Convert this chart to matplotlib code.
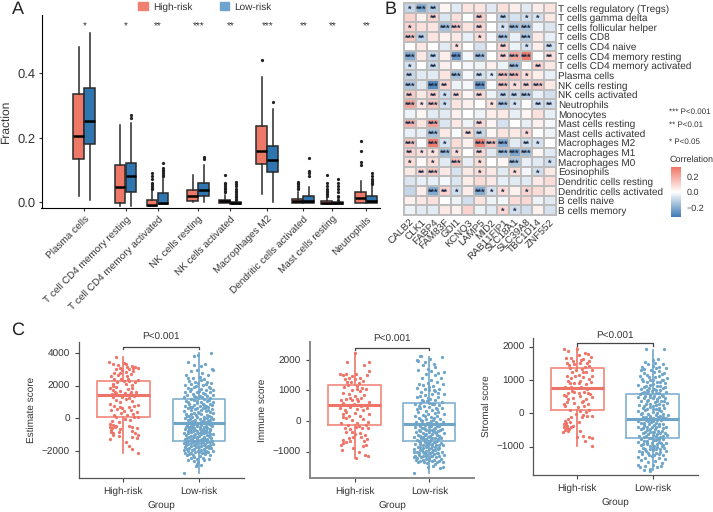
import numpy as np
import matplotlib
matplotlib.use("Agg")
import matplotlib.pyplot as plt
from matplotlib.colors import LinearSegmentedColormap
from matplotlib.patches import Patch
from matplotlib.transforms import ScaledTranslation

plt.rcParams['font.family'] = ['Liberation Sans', 'DejaVu Sans']
plt.rcParams['text.hinting'] = 'no_hinting'
plt.rcParams['text.hinting_factor'] = 1
W, H = 713, 512
TXT = '#333333'

# Panel A data
a_cats = ["Plasma cells", "T cell CD4 memory resting", "T cell CD4 memory activated", "NK cells resting",
          "NK cells activated", "Macrophages M2", "Dendritic cells activated", "Mast cells resting", "Neutrophils"]
a_stars = ["*", "*", "**", "***", "**", "***", "**", "**", "**"]
a_high_q1 = [0.134, -0.003, -0.011, 0.002, -0.003, 0.118, -0.004, -0.005, -0.004]
a_high_med = [0.206, 0.048, -0.009, 0.018, 0.003, 0.159, 0.003, -0.003, 0.011]
a_high_q3 = [0.336, 0.116, 0.005, 0.038, 0.007, 0.237, 0.010, 0.003, 0.030]
a_high_lo = [0.018, -0.013, -0.011, -0.001, -0.003, 0.025, -0.004, -0.005, -0.004]
a_high_hi = [0.483, 0.240, 0.033, 0.085, 0.023, 0.390, 0.030, 0.012, 0.066]
a_high_fl = [[], [], [0.04, 0.045, 0.05, 0.055, 0.06, 0.07, 0.08, 0.09], [],
             [0.03, 0.035, 0.04, 0.045, 0.05, 0.055, 0.06, 0.083], [0.443],
             [0.04, 0.045, 0.05, 0.055, 0.06, 0.063], [0.02, 0.025, 0.03, 0.035, 0.04, 0.05, 0.06, 0.085],
             [0.115, 0.125, 0.16, 0.19]]
a_low_q1 = [0.180, 0.031, -0.005, 0.018, -0.005, 0.093, -0.004, -0.006, -0.004]
a_low_med = [0.252, 0.080, -0.003, 0.038, -0.002, 0.131, 0.004, -0.004, 0.004]
a_low_q3 = [0.353, 0.121, 0.028, 0.059, 0.000, 0.173, 0.018, -0.001, 0.018]
a_low_lo = [0.007, -0.013, -0.005, -0.001, -0.005, -0.001, -0.004, -0.006, -0.004]
a_low_hi = [0.527, 0.245, 0.074, 0.114, 0.000, 0.288, 0.047, 0.000, 0.049]
a_low_fl = [[], [0.26, 0.27], [0.08, 0.085, 0.09, 0.095, 0.10, 0.105, 0.122], [0.135, 0.14],
            [0.005, 0.01, 0.015, 0.02, 0.025, 0.03, 0.035, 0.04, 0.05, 0.055, 0.062], [0.31],
            [0.08, 0.09, 0.095, 0.138], [0.005, 0.015, 0.02, 0.03, 0.04, 0.05, 0.06, 0.07],
            [0.055, 0.06, 0.065, 0.07, 0.08, 0.09]]

# Panel B data
hm_genes = ["CALB2", "CLK1", "FABP4", "FAM83F", "GDI1", "KCNQ3", "LAMP5", "MID2", "RAB11FIP1", "SLC18A1",
            "SLC39A8", "TBC1D14", "ZNF552"]
hm_cells = ["T cells regulatory (Tregs)", "T cells gamma delta", "T cells follicular helper", "T cells CD8",
            "T cells CD4 naive", "T cells CD4 memory resting", "T cells CD4 memory activated", "Plasma cells",
            "NK cells resting", "NK cells activated", "Neutrophils", "Monocytes", "Mast cells resting",
            "Mast cells activated", "Macrophages M2", "Macrophages M1", "Macrophages M0", "Eosinophils",
            "Dendritic cells resting", "Dendritic cells activated", "B cells naive", "B cells memory"]
hm_vals = [
    [-.10, -.20, -.12, .02, -.05, .06, .06, -.05, .07, .04, -.05, .04, .06],
    [.10, .03, .10, -.06, .07, .00, .12, .00, -.10, -.07, -.08, -.07, .05],
    [.10, .07, .06, -.15, .12, .06, .10, .00, -.07, -.15, -.15, -.03, -.06],
    [.13, -.11, .06, .03, .05, -.04, .08, -.02, -.13, -.04, -.13, .05, -.04],
    [.00, .05, .00, -.05, .07, .00, -.07, .00, .10, -.03, -.07, .04, -.08],
    [-.20, .05, -.10, .04, -.25, -.02, -.15, .00, .10, .20, .30, .00, .08],
    [-.07, .00, -.09, .03, .00, -.02, -.03, .03, -.03, -.15, .00, .10, .05],
    [-.10, -.05, -.05, .06, -.15, -.02, -.08, -.05, .13, .14, .08, .04, -.04],
    [-.13, -.05, -.28, .10, -.03, -.02, -.25, -.01, .13, .08, .10, .12, .05],
    [.12, .05, .10, -.08, .09, .02, .09, -.03, -.10, -.10, -.12, -.04, -.08],
    [.20, .06, .13, -.08, .06, .03, .00, .07, -.13, -.07, .00, -.08, -.08],
    [-.03, .02, -.05, -.05, .03, .00, -.03, .04, .05, -.04, .02, .07, -.04],
    [.17, .06, .22, -.06, .05, -.03, .09, .02, -.07, .00, -.04, .03, -.02],
    [-.04, -.04, -.15, .05, -.01, .08, -.10, .02, .06, .05, .09, .00, -.03],
    [.13, .00, .30, -.07, .08, .03, .28, .13, -.20, -.05, -.08, -.07, .00],
    [.10, .07, .07, -.15, .08, .00, .09, -.05, -.15, -.22, -.15, .02, -.05],
    [.08, .01, .08, -.05, .15, -.04, .08, .00, .02, -.14, -.04, -.05, -.08],
    [.05, .09, .13, .05, -.07, .05, .08, .05, -.05, .08, -.02, -.08, .05],
    [-.06, -.04, -.04, -.02, -.06, .04, .08, .05, -.04, -.05, -.05, .05, .08],
    [-.10, .04, -.20, .10, -.08, .04, -.20, -.07, .08, .03, .10, .08, .05],
    [.03, .05, .07, .00, -.03, -.08, .06, -.03, -.02, .08, .09, -.03, -.05],
    [-.03, -.05, -.05, .05, .03, .10, -.03, -.05, .09, -.08, -.08, .03, -.07],
]
hm_stars = ["1320000000000", "0020002020110", "1003302013300", "3200001030300", "0000100020102", "3020303023302",
            "1020000003020", "2000302133100", "3032003031230", "2021202022300", "3131000131022", "0000000000000",
            "3030002000000", "0030022000100", "3031003330210", "2113102033300", "1010301003001", "0230001001010",
            "0000000000000", "0032103110100", "0000000000000", "0000000011000"]

# Panel C data, jitter offset and score
groups = ["High-risk", "Low-risk"]
est_box_high = [100, 1450, 2265, -2100, 3735]
est_box_low = [-1370, -285, 1180, -3330, 4020]
imm_box_high = [-140, 530, 1174, -1195, 2230]
imm_box_low = [-640, -87, 600, -1685, 2100]
str_box_high = [100, 750, 1350, -970, 1950]
str_box_low = [-730, -170, 580, -1700, 1900]

est_high = [(-.09,3735),(-.19,3430),(-.13,3330),(-.07,3270),(.01,3410),(.04,3330),(.11,3200),(.16,3160),(.19,3060),
(-.1,3030),(-.05,3090),(-.02,2950),(.08,2990),(.13,2870),(-.12,2760),(.03,2830),(.1,2680),(-.16,2560),(-.07,2620),(.05,2560),
(-.12,2430),(-.03,2380),(.01,2260),(.08,2280),(.15,2210),(.19,2320),(-.14,2120),(-.08,2200),(.04,2110),(.12,2050),(-.17,1830),
(-.13,1750),(-.11,1620),(-.09,1900),(-.05,1660),(.06,1780),(.11,1840),(.17,1580),(-.15,1500),(-.07,1430),(.02,1560),(.09,1460),
(-.02,1320),(.14,1340),(-.09,1130),(-.04,1010),(-.17,880),(.03,1180),(.11,1050),(.19,820),(-.12,760),(-.05,720),(.07,700),
(.14,760),(-.16,480),(-.08,560),(.01,440),(.1,520),(.18,410),(-.12,220),(-.03,310),(.05,180),(.13,260),(-.09,70),(.02,-30),
(.19,60),(-.15,-170),(-.17,-330),(-.13,-400),(-.06,-220),(.09,-120),(-.18,-560),(-.15,-620),(-.11,-520),(-.05,-680),(.07,-490),
(.12,-540),(.18,-610),(-.16,-810),(-.13,-880),(-.06,-840),(.11,-760),(.16,-880),(.19,-1010),(-.17,-1260),(-.14,-1020),(-.06,-1100),
(.12,-1130),(.18,-1220),(.07,-1680),(.03,-1470),(.12,-1900),(.19,-2100),(-.14,1980),(-.1,1520),(.06,2430),(.13,3060),(-.05,2780),
(.1,1620),(-.13,1280),(.07,1240),(-.02,620),(.14,90),(-.16,-740),(-.09,-460),(.05,3120)]
est_low = [(.16,4020),(-.07,3780),(-.01,3900),(-.14,3450),(-.06,3290),(.03,3200),(.08,3350),(.19,2950),(.17,3000),(-.11,2880),
(-.03,2960),(.04,2780),(.12,2640),(-.17,2620),(-.08,2480),(.01,2530),(.07,2410),(-.13,2300),(-.05,2210),(.1,2250),(.16,2150),
(-.18,2040),(-.1,2090),(-.01,2130),(.05,2020),(.13,1930),(-.15,1870),(-.06,1910),(.03,1800),(.09,1720),(.19,1760),(-.19,1610),
(-.12,1680),(-.03,1590),(.05,1530),(.14,1620),(-.16,1420),(-.08,1460),(.01,1380),(.11,1350),(.18,1420),(-.2,1280),(-.11,1210),
(-.04,1290),(.06,1180),(.15,1230),(-.17,1060),(-.07,1130),(.02,990),(.1,1080),(.19,1010),(-.13,880),(-.03,920),(.07,840),
(.15,900),(-.19,760),(-.09,700),(.01,760),(.12,680),(-.15,600),(-.05,550),(.05,610),(.17,560),(-.2,420),(-.11,480),(-.01,400),
(.09,450),(.14,370),(-.17,280),(-.07,320),(.03,240),(.19,300),(-.13,150),(-.04,190),(.07,110),(.13,170),(-.19,20),(-.09,60),
(.01,-20),(.11,30),(.18,-40),(-.15,-130),(-.05,-90),(.05,-160),(.15,-110),(-.2,-270),(-.11,-220),(-.01,-300),(.09,-240),(.19,-280),
(-.16,-390),(-.07,-350),(.03,-420),(.13,-370),(-.13,-510),(-.03,-470),(.07,-540),(.17,-500),(-.19,-640),(-.09,-590),(.01,-650),
(.11,-610),(-.15,-760),(-.05,-710),(.05,-790),(.15,-730),(-.2,-880),(-.11,-850),(-.01,-910),(.09,-860),(.18,-930),(-.17,-1000),
(-.07,-1040),(.03,-980),(.13,-1060),(-.13,-1140),(-.03,-1180),(.07,-1120),(.16,-1210),(-.19,-1290),(-.09,-1250),(.01,-1310),(.11,-1270),
(-.15,-1400),(-.05,-1370),(.05,-1420),(.14,-1450),(-.2,-1510),(-.11,-1540),(-.02,-1490),(.08,-1560),(.19,-1580),(-.17,-1640),(-.07,-1620),
(.03,-1680),(.12,-1710),(-.19,-1780),(-.13,-1820),(-.04,-1760),(.06,-1850),(.16,-1790),(-.2,-1960),(-.15,-2020),(-.09,-1930),(-.01,-1990),
(.09,-1970),(.18,-1990),(-.18,-2100),(-.11,-2140),(-.05,-2080),(.04,-2130),(.11,-2090),(-.16,-2260),(-.08,-2230),(.01,-2290),(.08,-2200),
(.15,-2260),(-.1,-2420),(-.03,-2480),(.05,-2400),(.13,-2470),(-.15,-2520),(-.06,-2620),(-.02,-2770),(-.04,-2890),(.02,-2880),(-.01,-2680),
(.07,-2580),(-.2,-3330),(.12,-2060),(-.13,-640),(-.01,1620),(.06,-1180),(.02,-820),(-.02,-1120),(.08,620),(-.08,-440),
(-.14,2480),(.03,2340),(.09,2080),(-.04,1980),(.14,1840),(-.1,1820),(.0,1700),(.08,1480),(-.06,1360),(.04,1290),(.13,1140),(-.14,1010),
(-.02,1080),(.05,900),(.17,790),(-.07,820),(.09,740),(-.12,690),(.02,500),(-.03,620),(.12,480),(-.16,140),(.0,330),(.1,210),(-.1,240),
(.16,60),(-.03,90),(.06,-60),(-.12,-70),(-.08,-180),(.03,-230),(.12,-190),(-.14,-300),(.07,-310),(-.03,-380),(.16,-430),(-.1,-480),
(.01,-520),(.09,-470),(-.17,-560),(-.06,-620),(.05,-680),(.14,-640),(-.12,-700),(-.02,-760),(.09,-720),(-.08,-800),(.02,-860),(.13,-810),
(-.15,-920),(-.05,-960),(.06,-900),(.15,-960),(-.11,-1090),(.0,-1100),(.1,-1010),(-.16,-1180),(-.07,-1150),(.04,-1240),(.14,-1150),(-.12,-1340),
(-.03,-1300),(.08,-1330),(.17,-1370),(-.17,-1470),(-.08,-1460),(.02,-1520),(.11,-1480),(-.14,-1600),(-.04,-1580),(.06,-1640),(.15,-1620),
(-.1,-1720),(.0,-1760),(.09,-1780),(-.16,-1880),(-.06,-1870),(.03,-1920),(.13,-1840),(-.13,-2180),(.0,-2080),(.07,-2060),(-.06,-2340)]

imm_high = [(.0,2230),(-.1,1930),(.13,1820),(.2,1930),(-.19,1520),(-.16,1500),(-.12,1540),(-.08,1390),(-.04,1470),(.02,1540),(.08,1420),
(.17,1510),(.19,1620),(-.13,1380),(-.05,1270),(.01,1360),(.12,1300),(-.09,1180),(.04,1130),(.15,1050),(-.15,930),(-.03,1000),(.07,970),
(.13,850),(-.18,680),(-.12,720),(-.06,760),(.01,830),(.09,740),(.19,620),(-.16,600),(-.1,520),(-.01,570),(.05,650),(.14,530),
(-.19,420),(-.13,360),(-.06,450),(.03,390),(.11,350),(.17,440),(-.15,240),(-.08,160),(.0,260),(.07,170),(.19,230),(-.12,90),(-.03,30),
(.12,60),(-.18,-60),(-.09,-130),(.04,-60),(.16,-130),(-.13,-220),(-.06,-260),(.02,-200),(.1,-240),(.18,-230),(-.04,-370),(.01,-440),
(.08,-390),(.14,-450),(-.02,-520),(-.16,-610),(-.15,-730),(-.11,-670),(-.07,-560),(-.06,-660),(.13,-660),(.17,-600),(.15,-780),(.11,-830),
(-.18,-800),(-.17,-950),(.06,-1000),(.14,-1100),(.18,-1160),(.02,-1220),(-.02,-870),(.09,-520),(-.1,1290),(.06,1240),(-.14,1100),(.1,1080),
(-.07,880),(.04,710),(-.11,300),(.09,480),(-.16,120),(.06,-170),(-.12,-350),(.18,-20),(.03,1060),(-.04,680)]
imm_low = [(-.12,2130),(-.11,2110),(.17,2100),(-.17,2000),(-.15,1970),(-.06,1940),(.01,2010),(.06,1870),(.07,1780),(-.09,1830),(-.15,1660),
(-.02,1700),(.02,1640),(.12,1580),(.2,1610),(-.04,1530),(.08,1500),(.16,1420),(-.1,1400),(.02,1350),(.1,1260),(-.02,1240),(.18,1220),
(-.14,1210),(-.08,1180),(.05,1130),(-.17,1090),(.13,1060),(-.01,1010),(.08,970),(-.11,950),(.03,880),(.19,890),(-.06,840),(-.16,780),
(.12,770),(.01,720),(-.1,700),(.07,680),(-.03,640),(.17,620),(-.19,560),(-.12,590),(.04,560),(.13,520),(-.07,500),(-.01,470),(.09,440),
(-.17,400),(-.12,430),(.17,410),(.03,370),(-.05,340),(.12,310),(-.15,280),(.07,260),(-.02,230),(.19,240),(-.19,170),(-.09,200),(.02,140),
(.1,160),(-.14,90),(-.05,60),(.14,80),(.05,40),(-.18,-30),(-.1,-10),(.0,-50),(.09,-20),(.18,-40),(-.15,-110),(-.06,-130),(.04,-100),(.13,-150),
(-.19,-200),(-.1,-230),(-.01,-190),(.08,-220),(.17,-250),(-.14,-280),(-.05,-310),(.04,-290),(.12,-330),(-.18,-370),(-.09,-390),(.0,-350),
(.09,-400),(.19,-380),(-.15,-450),(-.06,-470),(.03,-430),(.13,-490),(-.2,-530),(-.11,-550),(-.02,-510),(.07,-540),(.16,-560),(-.16,-610),
(-.07,-630),(.02,-590),(.1,-640),(-.12,-680),(-.03,-710),(.06,-670),(.15,-720),(-.19,-760),(-.09,-780),(.0,-740),(.09,-790),(.18,-770),
(-.15,-840),(-.05,-860),(.04,-820),(.13,-880),(-.2,-930),(-.1,-950),(-.01,-910),(.08,-960),(.17,-1000),(-.17,-1020),(-.07,-1040),(.03,-1000),
(.12,-1060),(-.14,-1110),(-.04,-1130),(.06,-1090),(.19,-1100),(-.2,-1170),(-.11,-1190),(-.01,-1210),(.09,-1180),(.16,-1230),(-.18,-1290),
(-.08,-1270),(.03,-1300),(.13,-1320),(-.15,-1350),(-.03,-1380),(.08,-1400),(.18,-1340),(-.19,-1140),(.05,-1470),(.14,-1540),(.18,-1500),
(-.2,-1000),(-.02,-1510),(-.2,-1685),(-.12,-850),(.01,-640),(-.06,-270),(.05,-330),(-.04,-800),(.02,-1130),(.11,-880),(-.09,-570),(.07,-110),
(.0,1100),(.06,1000),(-.06,1060),(.11,900),(-.13,820),(-.02,760),(.06,560),(-.09,640),(-.14,480),(.0,590),(.1,380),(-.06,170),(.06,110),(-.11,30),
(.02,-10),(.12,-90),(-.03,-60),(-.12,-160),(.02,-150),(.1,-160),(-.07,-240),(.06,-250),(.14,-290),(-.12,-320),(.0,-280),(.07,-350),(-.04,-420),
(.1,-460),(-.12,-480),(.01,-480),(.14,-530),(-.08,-520),(.04,-570),(-.04,-600),(.12,-590),(-.14,-640),(-.01,-660),(.08,-700),(-.06,-700),(.03,-760),
(.13,-770),(-.12,-760),(-.03,-810),(.07,-840),(-.09,-880),(.02,-880),(.11,-930),(-.13,-940),(-.04,-970),(.05,-950),(-.09,-1020),(.01,-1050),
(.1,-1030),(-.14,-1060),(-.05,-1080),(.03,-1150),(.13,-1150),(-.09,-1140),(-.16,-1220),(-.05,-1230),(.06,-1260),(-.12,-1300),(-.01,-1290),(.1,-1340),(-.07,-1340)]

str_high = [(-.18,1930),(-.12,1880),(-.01,1930),(.14,1770),(.1,1800),(-.15,1660),(-.09,1650),(-.06,1580),(.02,1740),(.07,1630),(.18,1690),
(.16,1580),(-.13,1510),(-.04,1470),(.03,1520),(.1,1400),(.15,1430),(-.1,1350),(-.02,1300),(.06,1320),(.19,1290),(-.07,1230),(.12,1250),
(.19,1120),(-.14,1130),(-.09,1060),(.02,1140),(.08,1080),(.15,1020),(-.12,970),(-.05,910),(.04,960),(.11,870),(.18,940),(-.16,790),
(-.08,800),(.0,760),(.05,800),(.13,740),(-.18,560),(-.12,620),(-.07,660),(.02,620),(.09,650),(.17,570),(-.15,510),(-.06,460),(.03,520),
(.11,430),(.19,480),(-.18,290),(-.13,340),(-.04,300),(.06,340),(.14,290),(-.16,210),(.01,190),(.09,220),(-.1,100),(.04,80),(.16,110),(.12,30),
(-.02,-20),(.08,-50),(.13,-80),(.19,-80),(-.08,-100),(-.12,-160),(-.16,-220),(-.18,-310),(-.15,-290),(-.1,-270),(-.13,-370),(-.17,-420),(-.14,-440),
(-.09,-410),(-.19,-560),(-.12,-530),(-.06,-380),(.02,-250),(.03,-520),(.07,-670),(.16,-700),(.19,-730),(.1,-830),(.19,-970),(-.01,-700),(.06,-120),
(-.11,1440),(.05,1600),(.13,1520),(-.03,1120),(.08,1230),(-.1,900),(.02,900),(.14,600),(-.04,640),(.07,380),(-.12,430),(-.15,-340),(-.11,-460),(-.16,-490)]
str_low = [(-.09,1920),(.15,1920),(.01,1600),(.07,1620),(.13,1470),(-.14,1390),(-.06,1470),(.0,1420),(.05,1360),(.17,1350),(-.16,1290),(-.11,1220),
(-.02,1290),(.09,1260),(.15,1200),(-.17,1130),(-.07,1150),(.03,1090),(.12,1010),(.19,1050),(-.13,970),(-.03,1000),(.06,930),(.16,920),(-.19,860),
(-.09,830),(.0,870),(.1,810),(-.15,730),(-.05,770),(.04,710),(.14,750),(-.11,650),(-.01,680),(.08,610),(.18,650),(-.17,570),(-.07,600),
(.02,530),(.12,560),(-.2,480),(-.12,450),(-.03,500),(.06,440),(.16,470),(-.15,370),(-.06,400),(.03,340),(.11,380),(.19,310),(-.18,260),(-.09,290),
(.0,230),(.09,270),(-.13,160),(-.04,190),(.05,140),(.15,170),(-.19,70),(-.1,100),(.01,40),(.11,80),(-.16,-30),(-.06,-10),(.04,-50),(.13,-20),
(.2,-60),(-.13,-120),(-.03,-140),(.07,-100),(.17,-150),(-.19,-220),(-.09,-200),(.01,-240),(.11,-210),(-.15,-300),(-.05,-320),(.05,-290),(.14,-330),
(-.2,-400),(-.11,-380),(-.01,-420),(.08,-390),(.18,-410),(-.16,-480),(-.07,-510),(.03,-470),(.12,-520),(-.13,-590),(-.03,-570),(.06,-610),(.16,-580),
(-.18,-670),(-.09,-690),(.0,-650),(.1,-700),(.19,-660),(-.15,-770),(-.05,-750),(.04,-790),(.13,-760),(-.19,-860),(-.11,-840),(-.01,-880),(.08,-850),
(.17,-890),(-.16,-950),(-.07,-930),(.02,-970),(.12,-990),(-.13,-1040),(-.03,-1060),(.06,-1020),(.15,-1050),(-.18,-1120),(-.09,-1140),(.0,-1110),
(.1,-1150),(.18,-1130),(-.14,-1220),(-.05,-1240),(.04,-1200),(.13,-1260),(-.19,-1310),(-.1,-1330),(-.01,-1290),(.08,-1340),(.16,-1370),(-.15,-1410),
(-.06,-1450),(.03,-1420),(.12,-1480),(-.2,-1550),(-.17,-1620),(-.1,-1580),(-.04,-1660),(.0,-1540),(.06,-1620),(.11,-1570),(-.12,-1700),(-.03,-1720),
(-.08,-900),(.02,-560),(-.02,-250),(.07,-730),(.05,-1080),(-.11,-330),(.09,170),(-.06,660),
(-.1,1530),(.03,1500),(.09,1400),(-.12,1320),(.02,1240),(.12,1180),(-.05,1080),(.08,1120),(-.14,1030),(.0,990),(.14,1000),(-.08,930),(.1,930),
(-.04,860),(.06,820),(-.12,790),(.16,780),(.02,720),(-.08,700),(.1,700),(-.14,620),(.04,610),(-.03,560),(.14,530),(-.1,520),(.08,490),(.0,450),
(-.08,380),(.06,370),(.15,360),(-.03,280),(.04,240),(-.12,230),(.13,250),(-.07,120),(.08,110),(.0,120),(-.14,20),(.06,10),(-.03,-70),(.1,-70),
(-.09,-110),(.01,-130),(.13,-120),(-.06,-230),(.06,-210),(-.12,-280),(.02,-340),(.09,-320),(-.08,-420),(.04,-400),(-.13,-440),(.13,-430),(-.04,-470),
(.07,-520),(-.1,-570),(.0,-560),(.1,-600),(-.06,-630),(.04,-680),(.14,-680),(-.12,-720),(-.02,-730),(.08,-770),(-.08,-820),(.02,-800),(.11,-880),
(-.13,-910),(-.04,-980),(.06,-930),(.14,-960),(-.1,-1060),(.0,-1030),(.1,-1060),(-.14,-1160),(-.06,-1190),(.02,-1250),(.09,-1230)]


def px_axes(fig, left, top, right, bottom):
    return fig.add_axes([left/W, 1-bottom/H, (right-left)/W, (bottom-top)/H])


def shift_labels(fig, labels, dx, dy):
    # nudge rotated tick labels, offsets given in pixels
    for lab in labels:
        lab.set_transform(lab.get_transform() + ScaledTranslation(dx/100, -dy/100, fig.dpi_scale_trans))


fig = plt.figure(figsize=(W/100, H/100), dpi=100)

# A
ax = px_axes(fig, 41.5, 15, 380, 208)
ticks_px = np.array([84, 125.7, 157.7, 198, 230, 267, 303, 332, 366])
RED, BLUE = '#ee7868', '#2f75b0'
for side, col, q1, med, q3, lo, hi, fl in [(-5.5, RED, a_high_q1, a_high_med, a_high_q3, a_high_lo, a_high_hi, a_high_fl),
                                           (5.5, BLUE, a_low_q1, a_low_med, a_low_q3, a_low_lo, a_low_hi, a_low_fl)]:
    stats = [dict(q1=q1[i], med=med[i], q3=q3[i], whislo=lo[i], whishi=hi[i], fliers=fl[i]) for i in range(len(q1))]
    ax.bxp(stats, positions=ticks_px+side, widths=10.5, patch_artist=True, showcaps=False, manage_ticks=False,
           boxprops=dict(facecolor=col, edgecolor='#2a2a2a', linewidth=1.1),
           medianprops=dict(color='black', linewidth=1.8),
           whiskerprops=dict(color='#2a2a2a', linewidth=1.1),
           flierprops=dict(marker='o', markersize=1.3, markerfacecolor='#222222', markeredgecolor='#222222'))
ax.set_xlim(41.5, 380)
ax.set_ylim((202-208)/321.6, (202-15)/321.6)
for x, s in zip(ticks_px, a_stars):
    ax.text(x+0.5, 0.545, s, ha='center', va='center', fontsize=7, color=TXT)
ax.set_xticks(ticks_px)
ax.set_xticklabels(a_cats, rotation=45, ha='right', rotation_mode='anchor', fontsize=7.3, color=TXT)
shift_labels(fig, ax.get_xticklabels(), 6, 0)
ax.set_yticks([0, 0.2, 0.4])
ax.set_yticklabels(["0.0", "0.2", "0.4"], fontsize=9.4, color=TXT)
ax.spines[['top', 'right']].set_visible(False)
ax.tick_params(length=2.5, width=0.8, color='#333333', pad=2)
fig.text(6/W, 1-122/H, "Fraction", rotation=90, fontsize=8.6, color=TXT, ha='center', va='center')

fig.legend(handles=[Patch(color='#f0806f', label='High-risk'), Patch(color='#6fa3cf', label='Low-risk')],
           ncol=2, loc='center', bbox_to_anchor=(205/W, 1-7/H), frameon=False, fontsize=7.5,
           handlelength=0.92, handleheight=0.8, columnspacing=2.6, handletextpad=0.5, labelcolor=TXT,
           borderpad=0)

# B
cmap = LinearSegmentedColormap.from_list('corr', ['#3f7ab5', '#ffffff', '#ef7464'])
ax = px_axes(fig, 404, 3, 555.5, 215)
mesh = ax.pcolormesh(np.array(hm_vals), cmap=cmap, vmin=-0.32, vmax=0.32, edgecolors='#bdbdbd', linewidth=1.4)
ax.invert_yaxis()
for r, row in enumerate(hm_stars):
    for c, n in enumerate(row):
        if n != '0':
            ax.text(c+0.5, r+0.66, '*'*int(n), ha='center', va='center', fontsize=6.2, color='#1a2a44', fontweight='bold')
ax.set_xticks(np.arange(13)+0.5)
ax.set_xticklabels(hm_genes, rotation=45, ha='right', rotation_mode='anchor', fontsize=7.4, color=TXT)
shift_labels(fig, ax.get_xticklabels(), 3.5, 0)
ax.yaxis.tick_right()
ax.set_yticks(np.arange(22)+0.5)
ax.set_yticklabels(hm_cells, fontsize=7.3, color=TXT)
ax.tick_params(length=0, pad=2)
for s in ax.spines.values():
    s.set_color('#bdbdbd')
    s.set_linewidth(1.4)

fig.text(669/W, 1-112/H, "*** P<0.001", fontsize=5.6, color=TXT, va='center')
fig.text(669/W, 1-125/H, "** P<0.01", fontsize=5.6, color=TXT, va='center')
fig.text(669/W, 1-142/H, "* P<0.05", fontsize=5.6, color=TXT, va='center')
fig.text(670/W, 1-160/H, "Correlation", fontsize=6.2, color=TXT, va='center')
cax = px_axes(fig, 671, 167, 681, 217)
cb = fig.colorbar(mesh, cax=cax)
cb.set_ticks([-0.2, 0, 0.2])
cb.set_ticklabels(["\u22120.2", "0.0", "0.2"], fontsize=6.5, color=TXT)
cb.ax.tick_params(length=0, pad=4)
cb.outline.set_visible(False)

# C
C_RED, C_BLUE = '#ef7468', '#6fa5c9'


def score_panel(box, xpos, high, low, box_high, box_low, ylabel, yticks, ylim, bracket_y, label_y, spine='#555555', spine_w=0.9):
    ax = px_axes(fig, *box)
    for pos, pts, b, col in [(1, high, box_high, C_RED), (2, low, box_low, C_BLUE)]:
        st = dict(q1=b[0], med=b[1], q3=b[2], whislo=b[3], whishi=b[4], fliers=[])
        ax.bxp([st], positions=[pos], widths=0.7, showcaps=False, manage_ticks=False,
               boxprops=dict(color=col, alpha=0.8, linewidth=1.3),
               medianprops=dict(color=col, linewidth=2.2),
               whiskerprops=dict(color=col, linewidth=1.2))
        arr = np.array(pts)
        ax.scatter(pos+arr[:, 0], arr[:, 1], s=5.5, color=col, linewidths=0, zorder=3)
    step = xpos[1]-xpos[0]
    ax.set_xlim(1-(xpos[0]-box[0])/step, 2+(box[2]-xpos[1])/step)
    ax.set_ylim(*ylim)
    tick = 0.02*(ylim[1]-ylim[0])
    ax.plot([1, 1, 2, 2], [bracket_y-tick, bracket_y, bracket_y, bracket_y-tick], color='#444444', lw=0.9, clip_on=False)
    ax.text(1.5, label_y, "P<0.001", ha='center', va='center', fontsize=7.2, color=TXT, clip_on=False)
    ax.set_xticks([1, 2])
    ax.set_xticklabels(groups, fontsize=7.2, color=TXT)
    ax.set_yticks(yticks)
    ax.set_yticklabels([str(v).replace('-', '\u2212') for v in yticks], fontsize=7.2, color=TXT)
    ax.set_xlabel("Group", fontsize=7.2, color=TXT, labelpad=3.5)
    ax.set_ylabel(ylabel, fontsize=7.2, color=TXT, labelpad=4)
    ax.spines[['top', 'right']].set_visible(False)
    ax.spines[['left', 'bottom']].set_color(spine)
    ax.spines[['left', 'bottom']].set_linewidth(spine_w)
    ax.tick_params(length=3, width=0.8, color='#444444', pad=3.5)


score_panel((79, 342, 244, 478), (123.3, 199), est_high, est_low, est_box_high, est_box_low, "Estimate score",
            [-2000, 0, 2000, 4000], ((418.3-478)*2000/32.7, (418.3-342)*2000/32.7), 4390, 4960)
score_panel((310, 342, 474, 478), (354.5, 429.3), imm_high, imm_low, imm_box_high, imm_box_low, "Immune score",
            [-1000, 0, 1000, 2000], ((421-478)*1000/30.6, (421-342)*1000/30.6), 2400, 2680, spine='#888888', spine_w=1.4)
score_panel((533.3, 338, 697.7, 475), (577.3, 652.7), str_high, str_low, str_box_high, str_box_low, "Stromal score",
            [-1000, 0, 1000, 2000], ((413.3-475)*1000/33.3, (413.3-338)*1000/33.3), 2100, 2320)

fig.text(17.5/W, 1-9.5/H, "A", fontsize=13, ha='center', va='center', color='#222222')
fig.text(391/W, 1-9.5/H, "B", fontsize=13, ha='center', va='center', color='#222222')
fig.text(17.5/W, 1-330.5/H, "C", fontsize=13, ha='center', va='center', color='#222222')

fig.savefig("out.png", dpi=100)
